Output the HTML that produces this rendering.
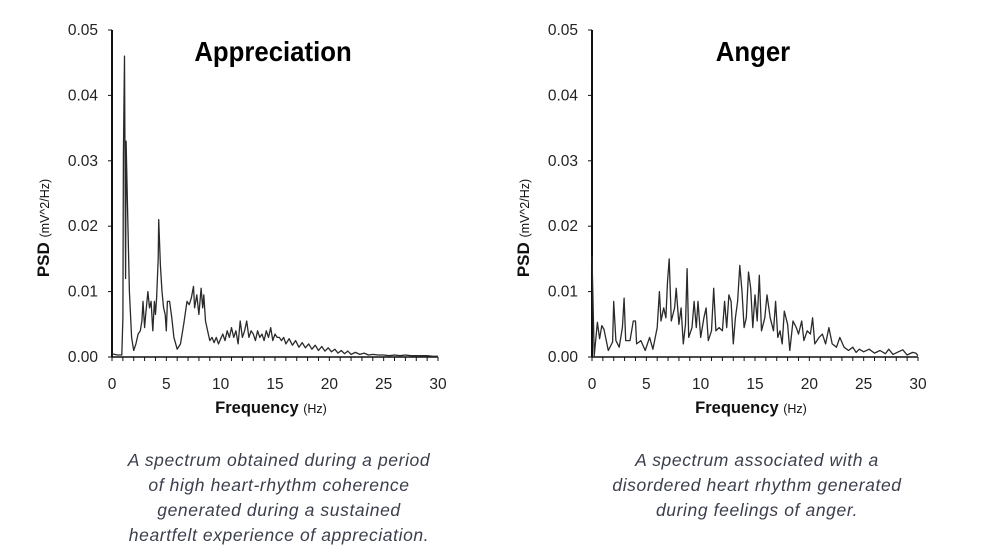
<!DOCTYPE html>
<html><head><meta charset="utf-8">
<style>
body{margin:0;background:#fff;width:1000px;height:556px;overflow:hidden;font-family:"Liberation Sans",sans-serif;}
.cap{position:absolute;width:400px;text-align:center;font-style:italic;font-size:17.5px;letter-spacing:0.6px;line-height:25px;color:#3b3f4c;}
</style></head><body>
<svg id="chart" width="1000" height="556" style="position:absolute;left:0;top:0"></svg>
<div class="cap" style="left:79px;top:448px">A spectrum obtained during a period<br>of high heart-rhythm coherence<br>generated during a sustained<br>heartfelt experience of appreciation.</div>
<div class="cap" style="left:557px;top:448px">A spectrum associated with a<br>disordered heart rhythm generated<br>during feelings of anger.</div>
<script>
const xTicks=[0,5,10,15,20,25,30];
const yTicks=[0,0.01,0.02,0.03,0.04,0.05];
const yTickLabels=["0.00","0.01","0.02","0.03","0.04","0.05"];
const chartTitles=["Appreciation","Anger"];
const apprFreq=[0,0.5,0.9,1.0,1.05,1.15,1.25,1.3,1.45,1.6,1.8,2.0,2.2,2.4,2.6,2.75,2.85,3.0,3.1,3.3,3.45,3.6,3.75,3.9,4.0,4.1,4.25,4.3,4.45,4.6,4.75,4.9,5.0,5.1,5.3,5.5,5.7,6.0,6.3,6.6,6.9,7.1,7.3,7.5,7.6,7.8,8.0,8.2,8.35,8.45,8.6,8.8,9.0,9.2,9.4,9.6,9.8,10.0,10.2,10.4,10.6,10.8,11.0,11.2,11.4,11.6,11.8,12.0,12.2,12.4,12.6,12.8,13.0,13.2,13.4,13.6,13.8,14.0,14.2,14.4,14.6,14.8,15.0,15.2,15.4,15.6,15.8,16.0,16.3,16.6,16.9,17.2,17.5,17.8,18.1,18.4,18.7,19.0,19.3,19.6,19.9,20.2,20.5,20.8,21.1,21.4,21.7,22.0,22.4,22.8,23.2,23.6,24.0,24.5,25.0,25.5,26.0,26.5,27.0,27.5,28.0,28.5,29.0,29.5,30];
const apprPSD=[0.0005,0.0003,0.0003,0.006,0.031,0.046,0.012,0.033,0.021,0.010,0.003,0.001,0.002,0.0035,0.004,0.0055,0.0085,0.0045,0.0065,0.0100,0.0075,0.0085,0.004,0.0085,0.0065,0.009,0.015,0.021,0.014,0.010,0.0075,0.0065,0.004,0.0085,0.0085,0.006,0.003,0.0012,0.002,0.005,0.0085,0.008,0.009,0.0108,0.0075,0.0095,0.0065,0.0105,0.0075,0.0095,0.0055,0.004,0.0025,0.003,0.0022,0.0030,0.0020,0.0028,0.0035,0.0025,0.0040,0.0030,0.0045,0.0030,0.0040,0.0020,0.0055,0.0030,0.0040,0.0055,0.0030,0.0040,0.0035,0.0025,0.0040,0.0030,0.0035,0.0025,0.0040,0.0030,0.0045,0.0025,0.0035,0.0030,0.0030,0.0025,0.0030,0.0020,0.0028,0.0018,0.0025,0.0015,0.0022,0.0014,0.0020,0.0012,0.0018,0.0010,0.0016,0.0009,0.0014,0.0008,0.0012,0.0006,0.0010,0.0005,0.0009,0.0004,0.0007,0.0004,0.0006,0.0003,0.0004,0.0003,0.0003,0.0002,0.0003,0.0002,0.0003,0.0002,0.0002,0.0002,0.0002,0.0001,0.0001];
const angerFreq=[0,0.2,0.5,0.7,0.9,1.1,1.5,1.9,2.0,2.2,2.5,2.8,2.95,3.1,3.5,3.8,4.0,4.1,4.5,4.9,5.3,5.6,6.0,6.2,6.35,6.6,6.8,6.95,7.1,7.3,7.6,7.75,8.0,8.2,8.4,8.6,8.75,8.9,9.2,9.4,9.6,9.75,10.0,10.3,10.5,10.7,11.0,11.2,11.4,11.7,12.0,12.2,12.4,12.6,12.8,13.0,13.2,13.4,13.6,13.8,14.0,14.2,14.4,14.6,14.8,15.0,15.2,15.4,15.6,15.9,16.1,16.4,16.7,16.9,17.1,17.3,17.5,17.7,18.0,18.2,18.5,18.8,19.0,19.3,19.5,19.8,20.1,20.3,20.5,20.9,21.2,21.5,21.8,22.1,22.5,22.8,23.2,23.6,24.0,24.3,24.6,25.0,25.5,26.0,26.5,27.0,27.3,27.7,28.2,28.6,29.0,29.5,29.8,30];
const angerPSD=[0.0155,0.0002,0.0053,0.0028,0.0048,0.0042,0.001,0.0023,0.0085,0.0025,0.0015,0.0045,0.009,0.0025,0.0025,0.0055,0.0055,0.002,0.0025,0.001,0.003,0.0012,0.0045,0.010,0.0055,0.0075,0.006,0.0115,0.015,0.0055,0.0075,0.0105,0.005,0.0075,0.002,0.005,0.0135,0.003,0.0045,0.0085,0.0045,0.0085,0.003,0.006,0.0075,0.0025,0.004,0.0105,0.004,0.0045,0.004,0.0085,0.0045,0.0095,0.0085,0.002,0.006,0.0085,0.014,0.010,0.0045,0.006,0.013,0.0105,0.0045,0.0095,0.0055,0.0125,0.004,0.006,0.0095,0.006,0.004,0.0085,0.003,0.004,0.002,0.007,0.005,0.001,0.0055,0.0045,0.0035,0.0055,0.0025,0.004,0.0035,0.006,0.002,0.003,0.0035,0.002,0.0045,0.002,0.0015,0.003,0.0015,0.001,0.0015,0.0007,0.0012,0.0008,0.0012,0.0006,0.001,0.0005,0.0012,0.0004,0.0008,0.0011,0.0003,0.0007,0.0006,0.0002];

const NS="http://www.w3.org/2000/svg";
const svg=document.getElementById('chart');
function mk(tag,attrs,parent){const e=document.createElementNS(NS,tag);for(const k in attrs)e.setAttribute(k,attrs[k]);(parent||svg).appendChild(e);return e;}
function drawChart(x0,x1,idx,freq,psd,key){
  const y0=357,yTop=30;
  const sx=f=>x0+f/30*(x1-x0);
  const sy=v=>y0-v/0.05*(y0-yTop);
  const g=mk('g',{});
  
  
  const ax=mk('line',{x1:x0,y1:yTop,x2:x0,y2:y0,stroke:'#111','stroke-width':2},g);
  
  
  const bx=mk('line',{x1:x0,y1:y0,x2:x1,y2:y0,stroke:'#111','stroke-width':1.5},g);
  
  
  for(let f=0;f<=30;f++){mk('line',{x1:sx(f),y1:y0,x2:sx(f),y2:y0+4,stroke:'#111','stroke-width':1},g);}
  yTicks.forEach((v,i)=>{
    mk('line',{x1:x0-4,y1:sy(v),x2:x0,y2:sy(v),stroke:'#111','stroke-width':1},g);
    const t=mk('text',{x:x0-14,y:sy(v)+5,'text-anchor':'end','font-size':15.5,fill:'#222'},g);
    t.textContent=yTickLabels[i];
    
    
  });
  xTicks.forEach(v=>{
    const t=mk('text',{x:sx(v),y:389,'text-anchor':'middle','font-size':15.5,fill:'#222'},g);
    t.textContent=v;
    
    
  });
  const xl=mk('text',{x:(x0+x1)/2-4,y:413,'text-anchor':'middle','font-size':16.5,'font-weight':'bold',fill:'#111'},g);
  xl.innerHTML='Frequency <tspan font-weight="normal" font-size="12.5">(Hz)</tspan>';
  
  
  const yl=mk('text',{x:0,y:0,'text-anchor':'middle','font-size':17,'font-weight':'bold',fill:'#111',transform:`translate(${x0-63},228) rotate(-90)`},g);
  yl.innerHTML='PSD <tspan font-weight="normal" font-size="12.5">(mV^2/Hz)</tspan>';
  
  
  const tt=mk('text',{x:0,y:0,'text-anchor':'middle','font-size':28,'font-weight':'bold',fill:'#000',transform:`translate(${(x0+x1)/2-2},61) scale(0.92,1)`},g);
  tt.textContent=chartTitles[idx];
  
  
  const d=freq.map((f,i)=>(i?'L':'M')+sx(f).toFixed(1)+','+sy(psd[i]).toFixed(1)).join('');
  const p=mk('path',{d:d,fill:'none',stroke:'#2a2a2a','stroke-width':1.3,'stroke-linejoin':'round'},g);
  
  
}
drawChart(112,438,0,apprFreq,apprPSD,'appreciation');
drawChart(592,918,1,angerFreq,angerPSD,'anger');
</script>
</body></html>
